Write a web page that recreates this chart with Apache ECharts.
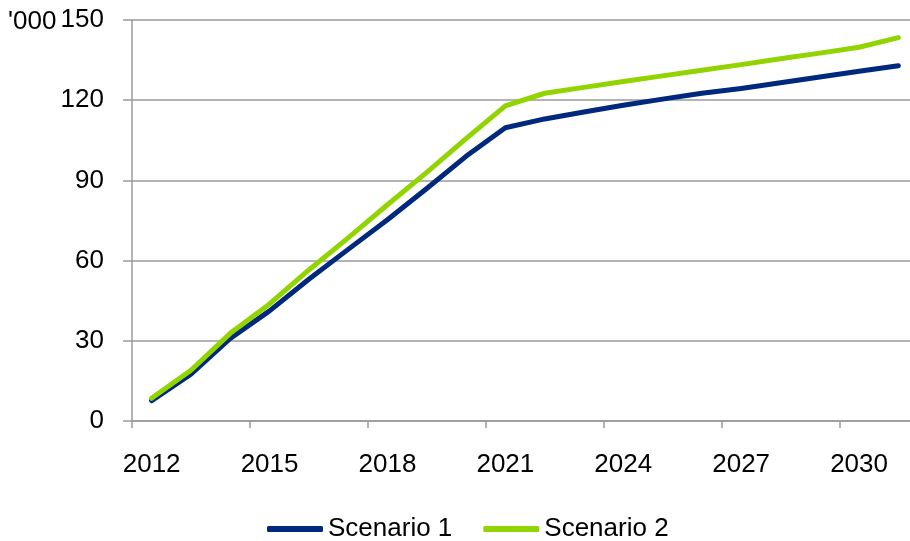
<!DOCTYPE html>
<html>
<head>
<meta charset="utf-8">
<script src="https://cdn.jsdelivr.net/npm/echarts@6/dist/echarts.min.js"></script>
<style>
  html, body { margin: 0; padding: 0; background: #fff; overflow: hidden; }
  #chart { width: 918px; height: 541px; }
</style>
</head>
<body>
<div id="chart"></div>
<script>
// Years on the category axis
const years = ['2012','2013','2014','2015','2016','2017','2018','2019','2020','2021',
               '2022','2023','2024','2025','2026','2027','2028','2029','2030','2031'];

// Projections, thousands
const scenario1 = [7.6, 17.5, 30.9, 41.2, 53.0, 64.2, 75.3, 87.0, 99.0, 109.7,
                   113.0, 115.6, 118.1, 120.4, 122.6, 124.4, 126.5, 128.7, 130.8, 132.9];
const scenario2 = [8.5, 19.0, 32.8, 43.8, 56.5, 68.5, 80.9, 93.0, 105.6, 117.9,
                   122.6, 124.8, 127.0, 129.1, 131.2, 133.3, 135.5, 137.6, 139.8, 143.4];

const seriesNames = ['Scenario 1', 'Scenario 2'];
const seriesColors = ['#00287D', '#92D400'];
const unitLabel = "'000";

const font = 'Liberation Sans, Arial, sans-serif';
const fontSize = 26;
const gridGray = '#9a9a9a';

const chart = echarts.init(document.getElementById('chart'), null, { renderer: 'canvas' });

chart.setOption({
  animation: false,
  backgroundColor: '#ffffff',
  grid: { left: 132, top: 20, bottom: 120, right: 0, containLabel: false },
  legend: {
    left: 267,
    top: 516,
    padding: 0,
    icon: 'roundRect',
    itemWidth: 56,
    itemHeight: 6,
    itemGap: 31,
    textStyle: { fontFamily: font, fontSize: fontSize, color: '#000' },
    data: seriesNames
  },
  graphic: [{
    type: 'text',
    left: 8,
    top: 9,
    style: { text: unitLabel, font: fontSize + 'px ' + font, fill: '#000' }
  }],
  xAxis: {
    type: 'category',
    data: years,
    boundaryGap: true,
    axisLine: { lineStyle: { color: gridGray, width: 1.5 } },
    axisTick: { show: true, interval: 2, length: 7, lineStyle: { color: gridGray, width: 1.5 } },
    axisLabel: { interval: 2, margin: 31, fontFamily: font, fontSize: fontSize, color: '#000' },
    splitLine: { show: false }
  },
  yAxis: {
    type: 'value',
    min: 0,
    max: 150,
    interval: 30,
    axisLine: { show: true, lineStyle: { color: gridGray, width: 1.5 } },
    axisTick: { show: true, length: 9, lineStyle: { color: gridGray, width: 1.5 } },
    axisLabel: { margin: 28, fontFamily: font, fontSize: fontSize, color: '#000' },
    splitLine: { show: true, lineStyle: { color: gridGray, width: 1.5 } }
  },
  series: [
    {
      name: seriesNames[0],
      type: 'line',
      data: scenario1,
      symbol: 'none',
      color: seriesColors[0],
      lineStyle: { width: 5, color: seriesColors[0], cap: 'round', join: 'round' }
    },
    {
      name: seriesNames[1],
      type: 'line',
      data: scenario2,
      symbol: 'none',
      color: seriesColors[1],
      lineStyle: { width: 5, color: seriesColors[1], cap: 'round', join: 'round' }
    }
  ]
});
</script>
</body>
</html>
